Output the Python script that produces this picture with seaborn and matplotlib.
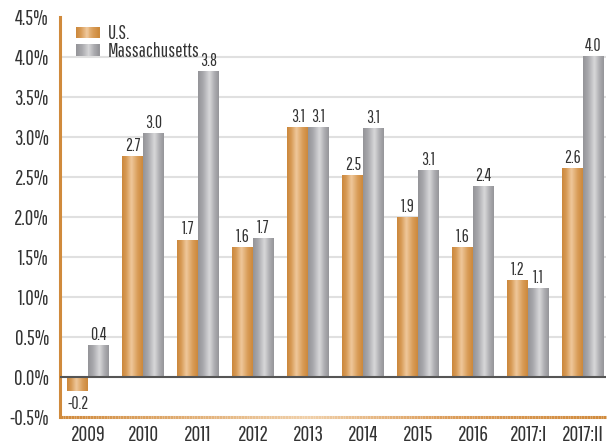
import numpy as np
import pandas as pd
import seaborn as sns
import matplotlib
matplotlib.use('Agg')
import matplotlib.pyplot as plt
import matplotlib.colors as mcolors
from matplotlib.collections import LineCollection
from matplotlib.legend_handler import HandlerBase
from matplotlib.patches import Rectangle

# data
years = ['2009', '2010', '2011', '2012', '2013', '2014', '2015', '2016', '2017:I', '2017:II']
us_growth = [-0.18, 2.75, 1.71, 1.62, 3.12, 2.52, 1.99, 1.62, 1.20, 2.60]
ma_growth = [0.39, 3.04, 3.82, 1.73, 3.12, 3.10, 2.58, 2.38, 1.10, 4.00]
us_labels = ['-0.2', '2.7', '1.7', '1.6', '3.1', '2.5', '1.9', '1.6', '1.2', '2.6']
ma_labels = ['0.4', '3.0', '3.8', '1.7', '3.1', '3.1', '3.1', '2.4', '1.1', '4.0']
series = ['U.S.', 'Massachusetts']

orange_cmap = mcolors.LinearSegmentedColormap.from_list(
    'orange', [(0, '#cb873b'), (0.2, '#d79a55'), (0.45, '#efc89c'), (0.75, '#d99d58'), (1, '#cc883a')])
gray_cmap = mcolors.LinearSegmentedColormap.from_list(
    'gray', [(0, '#939397'), (0.25, '#a9a9ad'), (0.55, '#d8d8da'), (0.8, '#ababaf'), (1, '#949498')])
cmaps = {'U.S.': orange_cmap, 'Massachusetts': gray_cmap}
text_color = '#333333'
spine_orange = '#d08a3c'

sns.set_style('white')
plt.rcParams['font.family'] = ['Pathway Gothic One', 'Roboto Condensed', 'DejaVu Sans']

df = pd.DataFrame({
    'year': years * 2,
    'growth': us_growth + ma_growth,
    'series': [series[0]] * len(years) + [series[1]] * len(years),
})

fig = plt.figure(figsize=(6.08, 4.45), dpi=100)
ax = fig.add_axes([0.0987, 0.0629, 0.8983, 0.8989])

sns.barplot(data=df, x='year', y='growth', hue='series', hue_order=series,
            palette=[spine_orange, '#a0a0a4'], width=0.75, gap=0,
            edgecolor='none', linewidth=0, ax=ax, legend=False)

ax.set_ylim(-0.5, 4.5)
ax.set_xlim(-0.509, 9.42)

# gradient fill on each bar
grad = np.linspace(0, 1, 256).reshape(1, -1)
n = len(years)
for i, bar in enumerate(ax.patches[:2 * n]):
    s = series[i // n]
    x0, y0 = bar.get_x(), bar.get_y()
    w, h = bar.get_width(), bar.get_height()
    bar.set_facecolor('none')
    ax.imshow(grad, cmap=cmaps[s], aspect='auto', interpolation='bicubic',
              extent=(x0, x0 + w, min(y0, y0 + h), max(y0, y0 + h)), zorder=2)

# value labels
for j in range(n):
    for k, (vals, labs) in enumerate([(us_growth, us_labels), (ma_growth, ma_labels)]):
        xc = j + (-0.1875 if k == 0 else 0.1875)
        v = vals[j]
        if v >= 0:
            ax.annotate(labs[j], (xc, v), xytext=(0, 2), textcoords='offset points',
                        ha='center', va='bottom', fontsize=12.5, color=text_color)
        else:
            ax.annotate(labs[j], (xc, v), xytext=(0, -3), textcoords='offset points',
                        ha='center', va='top', fontsize=12.5, color=text_color)

# grid and zero line
for yv in np.arange(0.5, 4.01, 0.5):
    ax.axhline(yv, color='#e0e0e0', lw=1.5, zorder=0)
ax.axhline(0, color='#555555', lw=1.5, zorder=3)

ax.set_yticks(np.arange(-0.5, 4.51, 0.5))
ax.set_yticklabels([f'{v:.1f}%' for v in np.arange(-0.5, 4.51, 0.5)])
ax.tick_params(axis='both', length=0, labelsize=15, colors=text_color)
ax.tick_params(axis='y', pad=8)
ax.tick_params(axis='x', pad=6, labelsize=15.5)
ax.set_xlabel('')
ax.set_ylabel('')

for side in ['top', 'right', 'bottom']:
    ax.spines[side].set_visible(False)
ax.spines['left'].set_color(spine_orange)
ax.spines['left'].set_linewidth(2.2)

# bottom spine with orange gradient
xs = np.linspace(0, 1, 200)
segs = [[(xs[i], 0), (xs[i + 1], 0)] for i in range(len(xs) - 1)]
spine_cmap = mcolors.LinearSegmentedColormap.from_list(
    'sp', [(0, '#d08a3c'), (0.45, '#f0cfa8'), (0.7, '#dc9e5c'), (1, '#d08a3c')])
lc = LineCollection(segs, colors=spine_cmap(xs[:-1]), linewidths=2.2,
                    transform=ax.transAxes, clip_on=False, zorder=4)
ax.add_collection(lc)


class GradientHandler(HandlerBase):
    def __init__(self, cmap):
        super().__init__()
        self.cmap = cmap

    def create_artists(self, legend, orig_handle, xdescent, ydescent, width, height, fontsize, trans):
        arts = []
        steps = 24
        for i in range(steps):
            r = Rectangle((-xdescent + width * i / steps, -ydescent), width / steps + 0.3, height,
                          facecolor=self.cmap((i + 0.5) / steps), edgecolor='none', transform=trans)
            arts.append(r)
        return arts


handles = [Rectangle((0, 0), 1, 1), Rectangle((0, 0), 1, 1)]
leg = ax.legend(handles, series, loc='upper left', bbox_to_anchor=(-0.003, 1.025),
                frameon=False, fontsize=14, labelcolor=text_color,
                handlelength=1.2, handleheight=0.55, handletextpad=0.45, labelspacing=-0.1,
                handler_map={handles[0]: GradientHandler(orange_cmap),
                             handles[1]: GradientHandler(gray_cmap)})

fig.savefig('out.png', dpi=100)
